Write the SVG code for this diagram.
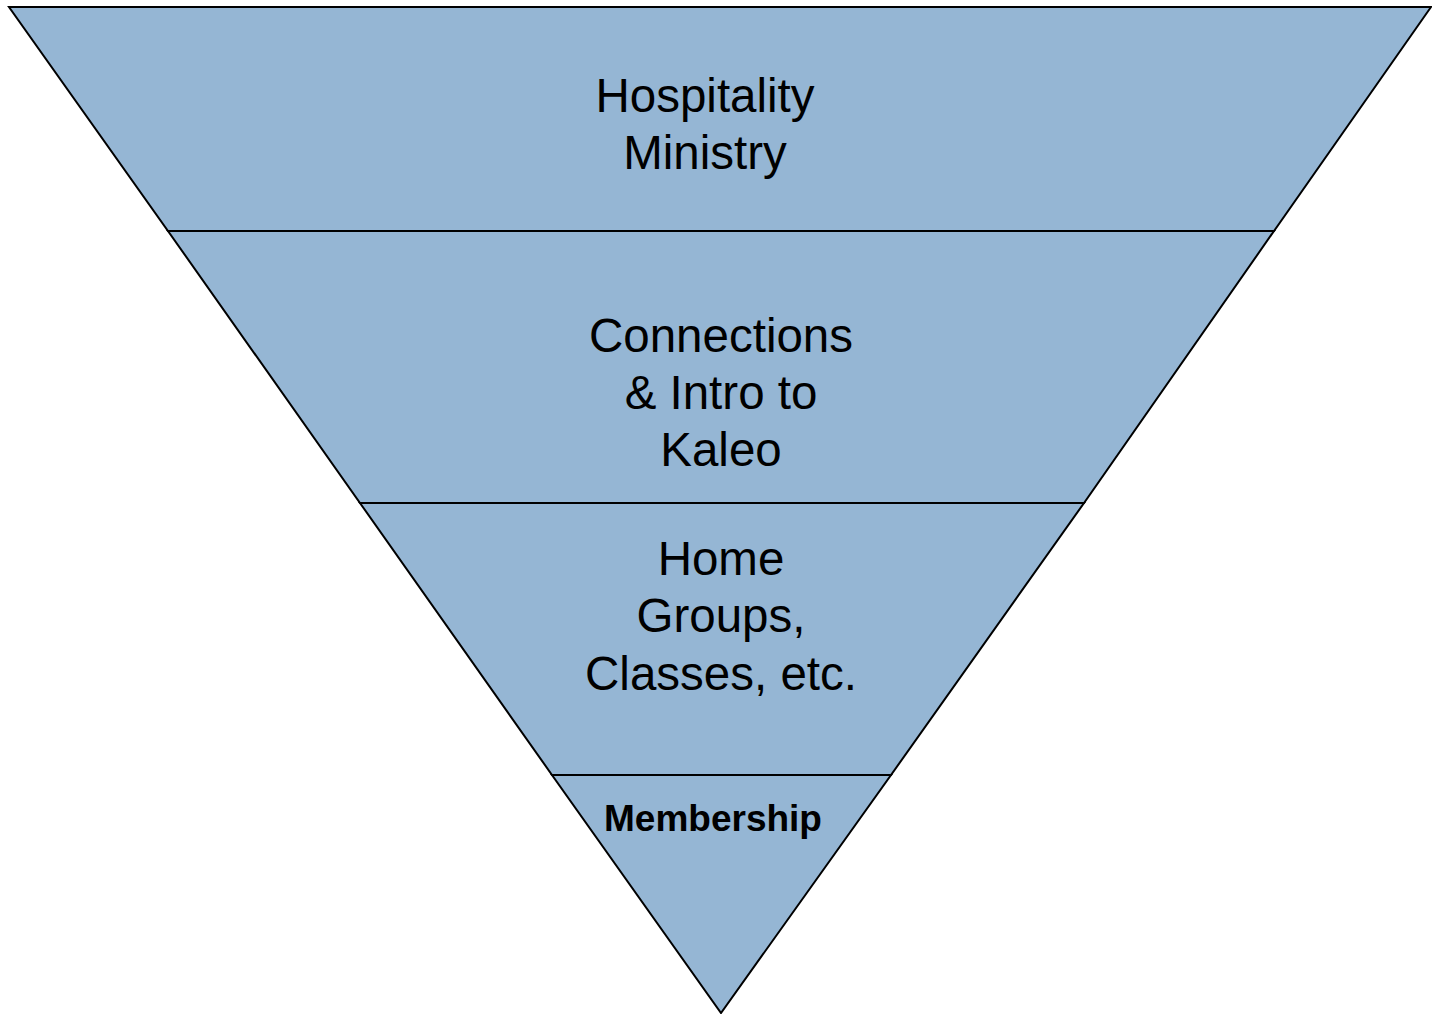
<svg xmlns="http://www.w3.org/2000/svg" width="1432" height="1014" viewBox="0 0 1432 1014">
<style>
.seg{fill:#95b6d4;stroke:#000;stroke-width:2;stroke-linejoin:miter}
.t{font-family:"Liberation Sans",Arial,sans-serif;font-size:47.5px;fill:#000;text-anchor:middle}
.b{font-family:"Liberation Sans",Arial,sans-serif;font-size:37px;font-weight:bold;fill:#000;text-anchor:middle}
</style>
<rect width="1432" height="1014" fill="#fff"/>
<g id="tier1">
<polygon class="seg" points="9,7 1431,7 1274,231 168,231"/>
<text class="t" x="705" y="112">Hospitality</text>
<text class="t" x="705" y="169">Ministry</text>
</g>
<g id="tier2">
<polygon class="seg" points="168,231 1274,231 1084,503 360,503"/>
<text class="t" x="721" y="352">Connections</text>
<text class="t" x="721" y="409">&amp; Intro to</text>
<text class="t" x="721" y="466">Kaleo</text>
</g>
<g id="tier3">
<polygon class="seg" points="360,503 1084,503 891,775 552,775"/>
<text class="t" x="721" y="575">Home</text>
<text class="t" x="721" y="632">Groups,</text>
<text class="t" x="721" y="690">Classes, etc.</text>
</g>
<g id="tier4">
<polygon class="seg" points="552,775 891,775 721,1013"/>
<text class="b" x="713" y="831">Membership</text>
</g>
<g id="connectors"/>
</svg>
